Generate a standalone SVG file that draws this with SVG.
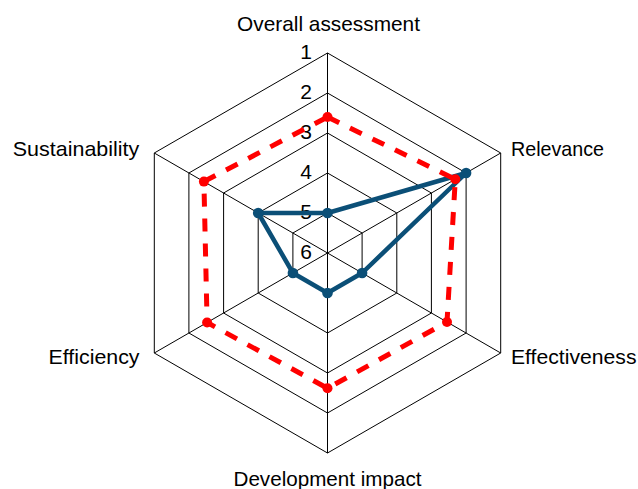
<svg xmlns="http://www.w3.org/2000/svg" width="638" height="489" viewBox="0 0 638 489">
<style>
.grid{fill:none;stroke:#000;stroke-width:1}
.lbl{font-family:"Liberation Sans",Arial,sans-serif;font-size:21px;fill:#000}
.num{font-family:"Liberation Sans",Arial,sans-serif;font-size:21px;fill:#000;text-anchor:end}
.blue{fill:none;stroke:#0b4f77;stroke-width:4.5;stroke-linejoin:round}
.red{fill:none;stroke:#ff0000;stroke-width:5;stroke-dasharray:13 12}
</style>
<rect width="638" height="489" fill="#fff"/>
<g id="grid">
<polygon class="grid" points="327.5,53 500.7,153 500.7,353 327.5,453 154.3,353 154.3,153"/>
<polygon class="grid" points="327.5,93 466.1,173 466.1,333 327.5,413 188.9,333 188.9,173"/>
<polygon class="grid" points="327.5,133 431.4,193 431.4,313 327.5,373 223.6,313 223.6,193"/>
<polygon class="grid" points="327.5,173 396.8,213 396.8,293 327.5,333 258.2,293 258.2,213"/>
<polygon class="grid" points="327.5,213 362.1,233 362.1,273 327.5,293 292.9,273 292.9,233"/>
<path class="grid" d="M327.5,253V53M327.5,253L500.7,153M327.5,253L500.7,353M327.5,253V453M327.5,253L154.3,353M327.5,253L154.3,153"/>
</g>
<g id="scale">
<text class="num" x="312" y="58.5">1</text>
<text class="num" x="312" y="98.5">2</text>
<text class="num" x="312" y="138.5">3</text>
<text class="num" x="312" y="178.5">4</text>
<text class="num" x="312" y="218.5">5</text>
<text class="num" x="312" y="258.5">6</text>
</g>
<g id="axis-labels">
<text id="overall" class="lbl" x="237" y="31" textLength="183" lengthAdjust="spacingAndGlyphs">Overall assessment</text>
<text id="relevance" class="lbl" x="511" y="156" textLength="93" lengthAdjust="spacingAndGlyphs">Relevance</text>
<text id="effectiveness" class="lbl" x="511" y="363.5" textLength="125.5" lengthAdjust="spacingAndGlyphs">Effectiveness</text>
<text id="development" class="lbl" x="233.5" y="485.5" textLength="188" lengthAdjust="spacingAndGlyphs">Development impact</text>
<text id="efficiency" class="lbl" x="48.5" y="363.5" textLength="91" lengthAdjust="spacingAndGlyphs">Efficiency</text>
<text id="sustainability" class="lbl" x="12.8" y="156" textLength="126.5" lengthAdjust="spacingAndGlyphs">Sustainability</text>
</g>
<g id="series-blue">
<polygon class="blue" points="327.5,213 466.1,173 362.1,273 327.5,293 292.9,273 258.2,213"/>
<g fill="#0b4f77">
<circle cx="327.5" cy="213" r="5.3"/>
<circle cx="466.1" cy="173" r="5.3"/>
<circle cx="362.1" cy="273" r="5.3"/>
<circle cx="327.5" cy="293" r="5.3"/>
<circle cx="292.9" cy="273" r="5.3"/>
<circle cx="258.2" cy="213" r="5.3"/>
</g>
</g>
<g id="series-red">
<polygon class="red" points="327.5,117 455.3,179.2 447,322 327.5,388.3 207.1,322.5 203.9,181.6"/>
<g fill="#ff0000">
<circle cx="327.5" cy="117" r="5"/>
<circle cx="455.3" cy="179.2" r="5"/>
<circle cx="447" cy="322" r="5"/>
<circle cx="327.5" cy="388.3" r="5"/>
<circle cx="207.1" cy="322.5" r="5"/>
<circle cx="203.9" cy="181.6" r="5"/>
</g>
</g>
</svg>
